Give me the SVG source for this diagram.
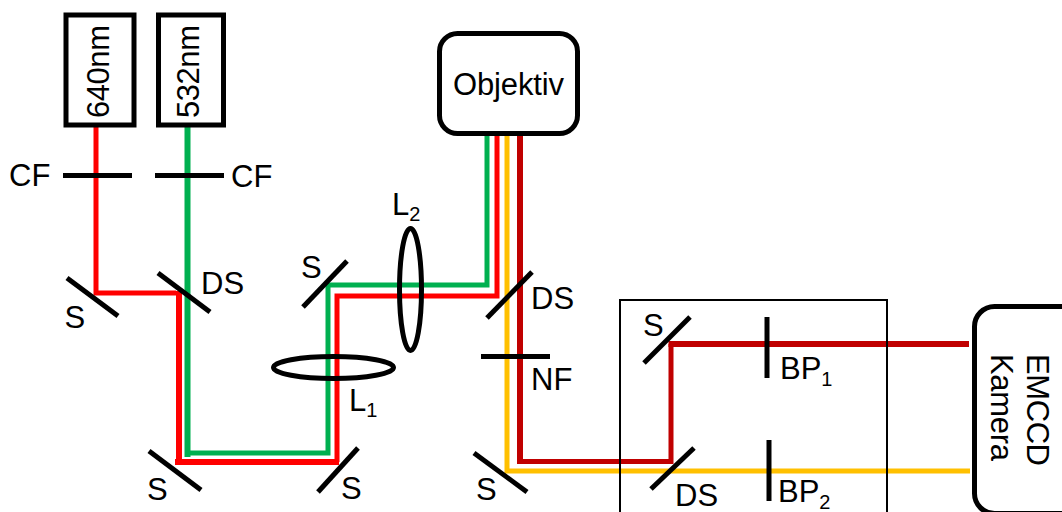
<svg xmlns="http://www.w3.org/2000/svg" width="1062" height="512" viewBox="0 0 1062 512">
<style>
text{font-family:"Liberation Sans",Arial,sans-serif;font-size:31px;fill:#000}
.sub{font-size:20px}
.box{fill:#fff;stroke:#000;stroke-width:5}
.bar{stroke:#000;stroke-width:5;fill:none}
.ray{fill:none;stroke-linejoin:miter}
.r{stroke:#f00}.g{stroke:#00b050}.y{stroke:#ffc000}.d{stroke:#c00000}
.lens{fill:none;stroke:#000;stroke-width:5}
</style>
<rect width="1062" height="512" fill="#fff"/>
<g id="connectors">
<path class="ray y" stroke-width="5" d="M507 135V471H970"/>
<path class="ray d" stroke-width="6" d="M520 135V461.500"/>
<path class="ray d" stroke-width="5" d="M517 461.500H671V344"/>
<path class="ray d" stroke-width="6" d="M668.500 344H969"/>
<path class="ray r" stroke-width="5" d="M96 127V293H176"/>
<path class="ray r" stroke-width="6" d="M179 291V462H337"/>
<path class="ray r" stroke-width="6" d="M175 462H339"/>
<path class="ray r" stroke-width="5" d="M337 462V296H497V135"/>
<path class="ray g" stroke-width="6" d="M187.500 127V457"/>
<path class="ray g" stroke-width="5" d="M185 453H328V285H487V135"/>
</g>
<g id="box-frame"><path d="M620 512V300H887V512" fill="none" stroke="#000" stroke-width="2"/></g>
<g id="laser-640"><rect class="box" x="66" y="15" width="68" height="110"/><text transform="translate(109 118) rotate(-90)" textLength="93">640nm</text></g>
<g id="laser-532"><rect class="box" x="158.500" y="15" width="65" height="110"/><text transform="translate(199 118) rotate(-90)" textLength="93">532nm</text></g>
<g id="cf-1"><path class="bar" d="M63 175.500H132"/><text x="9" y="186">CF</text></g>
<g id="cf-2"><path class="bar" d="M155 175.500H224"/><text x="231" y="187">CF</text></g>
<g id="s-1"><path class="bar" d="M67 278L118 316"/><text x="64.500" y="328">S</text></g>
<g id="ds-1"><path class="bar" d="M158 273L210 312"/><text x="201" y="294">DS</text></g>
<g id="s-2"><path class="bar" d="M149 451L201 490"/><text x="147" y="500">S</text></g>
<g id="s-3"><path class="bar" d="M318 492L358 448"/><text x="341" y="499">S</text></g>
<g id="l1"><ellipse class="lens" cx="333.500" cy="367.500" rx="60" ry="11"/><text x="349" y="411">L<tspan class="sub" dy="6">1</tspan></text></g>
<g id="s-4"><path class="bar" d="M303 307L347 261"/><text x="301" y="278">S</text></g>
<g id="l2"><ellipse class="lens" cx="410.500" cy="289.500" rx="11" ry="61"/><text x="392" y="215">L<tspan class="sub" dy="6">2</tspan></text></g>
<g id="objektiv"><rect class="box" x="439.500" y="33.500" width="138" height="100" rx="18"/><text x="453" y="95" textLength="111">Objektiv</text></g>
<g id="ds-2"><path class="bar" d="M487 318L532 272"/><text x="531" y="309">DS</text></g>
<g id="nf"><path class="bar" d="M481 356.500H550"/><text x="531" y="390">NF</text></g>
<g id="s-5"><path class="bar" d="M474 453L527 492"/><text x="476" y="500">S</text></g>
<g id="s-6"><path class="bar" d="M644 363L690 317"/><text x="643" y="336">S</text></g>
<g id="ds-3"><path class="bar" d="M651 489L694 448"/><text x="675" y="506">DS</text></g>
<g id="bp-1"><path class="bar" d="M767 317V378"/><text x="780" y="379">BP<tspan class="sub" dy="7">1</tspan></text></g>
<g id="bp-2"><path class="bar" d="M769 440V501"/><text x="778" y="502">BP<tspan class="sub" dy="7">2</tspan></text></g>
<g id="kamera"><rect class="box" x="974.500" y="306.500" width="130" height="207" rx="20"/><text transform="translate(1027 354) rotate(90)" textLength="112">EMCCD</text><text transform="translate(991 354) rotate(90)" textLength="107">Kamera</text></g>
</svg>
